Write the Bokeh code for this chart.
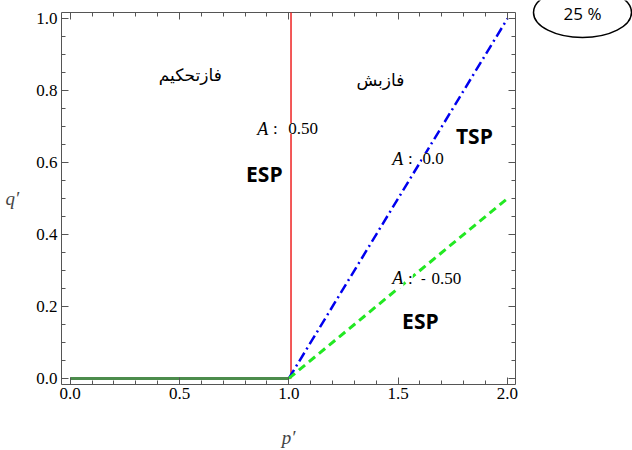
from bokeh.plotting import figure
from bokeh.models import Label, LinearAxis, SingleIntervalTicker, PrintfTickFormatter, CustomJSTickFormatter
from bokeh.layouts import row
from bokeh.core.properties import value
from bokeh.embed import file_html
from bokeh.resources import INLINE

# ---- data ----
flat_p = [0.0, 1.0]
flat_q = [0.0, 0.0]
red_p = [1.01, 1.01]
red_q = [0.0, 1.02]
tsp_p = [1.0, 2.0]
tsp_q = [0.0, 1.0]
esp_p = [1.0, 2.0]
esp_q = [0.0, 0.5]
pct_text = ["25 %"]

x_ticks_interval = 0.5
y_ticks_interval = 0.2

SERIF = "Liberation Serif"
GRAY = "#555555"

p = figure(width=520, height=450, x_range=(-0.04, 2.037), y_range=(-0.017, 1.017),
           output_backend="svg", toolbar_location=None,
           min_border_left=61, min_border_right=5, min_border_top=12, min_border_bottom=66,
           x_axis_label="p\u2032", y_axis_label="q\u2032")
p.grid.visible = False
p.outline_line_color = GRAY
p.outline_line_width = 1
p.background_fill_color = "white"
p.border_fill_color = "white"

xt = SingleIntervalTicker(interval=x_ticks_interval, num_minor_ticks=5)
yt = SingleIntervalTicker(interval=y_ticks_interval, num_minor_ticks=4)
p.xaxis.ticker = xt
p.yaxis.ticker = yt
p.xaxis.formatter = PrintfTickFormatter(format="%.1f")
p.yaxis.formatter = PrintfTickFormatter(format="%.1f")

for ax in (p.xaxis[0], p.yaxis[0]):
    ax.axis_line_color = None
    ax.major_tick_in = 7
    ax.major_tick_out = 0
    ax.minor_tick_in = 4
    ax.minor_tick_out = 0
    ax.major_tick_line_color = GRAY
    ax.minor_tick_line_color = GRAY
    ax.major_label_text_font = SERIF
    ax.major_label_text_font_size = "17px"
    ax.major_label_text_color = "black"
    ax.axis_label_text_font = SERIF
    ax.axis_label_text_font_style = "italic"
    ax.axis_label_text_font_size = "19px"
p.xaxis.major_label_standoff = 3
p.yaxis.major_label_standoff = 4
p.xaxis.axis_label_standoff = 25
p.yaxis.axis_label_standoff = 14
p.yaxis.axis_label_orientation = "horizontal"

for loc, tk in (("above", SingleIntervalTicker(interval=x_ticks_interval, num_minor_ticks=5)),
                ("right", SingleIntervalTicker(interval=y_ticks_interval, num_minor_ticks=4))):
    ax = LinearAxis(ticker=tk, axis_line_color=None, major_tick_in=7, major_tick_out=0,
                    minor_tick_in=4, minor_tick_out=0, major_tick_line_color=GRAY,
                    minor_tick_line_color=GRAY,
                    formatter=CustomJSTickFormatter(code="return ''"),
                    major_label_standoff=0)
    p.add_layout(ax, loc)

# ---- lines ----
p.line(red_p, red_q, line_color="#ee2222", line_width=1.5)
p.line(tsp_p, tsp_q, line_color="#0000ee", line_width=2.5, line_dash="10 4 2 4")
p.line(esp_p, esp_q, line_color="#22e822", line_width=3, line_dash="8 5")
p.line(flat_p, flat_q, line_color="#4c8c4c", line_width=3)

# ---- annotations ----
def px(xp):
    return (xp - 70) / 218.5

def py(yp):
    return (378 - yp) / 360

def lab(text, x, y, font=SERIF, size="17px", style="normal", align="center", bg=None):
    l = Label(x=x, y=y, text=text, text_font=font, text_font_size=size, text_font_style=style,
              text_align=align, text_baseline="middle", text_color="black",
              background_fill_color=bg)
    p.add_layout(l)

lab("فازتحکیم", px(190), py(74), font="DejaVu Sans", size="17px")
lab("فازبش", px(380), py(79), font="DejaVu Sans", size="17px")

lab("A", px(257), py(128), style="italic", size="18px", align="left")
lab(":", px(275), py(128), size="17px")
lab("0.50", px(288), py(128), size="17px", align="left", bg="white")
lab("ESP", px(264), py(173), font="Open Sans", size="21px", style="bold")

lab("TSP", px(474), py(135), font="Open Sans", size="21px", style="bold")
lab("A", px(392), py(158), style="italic", size="18px", align="left", bg="white")
lab(":", px(410), py(158), size="17px", bg="white")
lab("0.0", px(422), py(158), size="17px", align="left", bg="white")

lab("A", px(392), py(278), style="italic", size="18px", align="left", bg="white")
lab(":", px(410), py(278), size="17px", bg="white")
lab("-", px(423), py(278), size="14px", bg="white")
lab("0.50", px(431), py(278), size="17px", align="left", bg="white")
lab("ESP", px(420), py(321), font="Open Sans", size="21px", style="bold")

# ---- "25 %" ellipse panel (to the right of the plot) ----
p2 = figure(width=112, height=450, x_range=(520, 632), y_range=(450, 0),
            output_backend="svg", toolbar_location=None, title_location=None,
            x_axis_location=None, y_axis_location=None,
            min_border=0, outline_line_color=None)
p2.grid.visible = False

if "frame_align" in p2.properties():
    p.frame_align = False
    p2.frame_align = False
    ell_y, txt_y, ell_h = 12, 13, 50
else:
    ell_y, txt_y, ell_h = 2, 6, 50

p2.ellipse(x=[582], y=[ell_y], width=98, height=ell_h, fill_color="white",
           line_color="black", line_width=1.5)
p2.text(x=[582], y=[txt_y], text=pct_text, text_font=value("Open Sans"), text_font_size="17px",
        text_align="center", text_baseline="middle", text_color="black")

layout = row(p, p2, spacing=0)
open("out.html", "w").write(file_html(layout, INLINE))
